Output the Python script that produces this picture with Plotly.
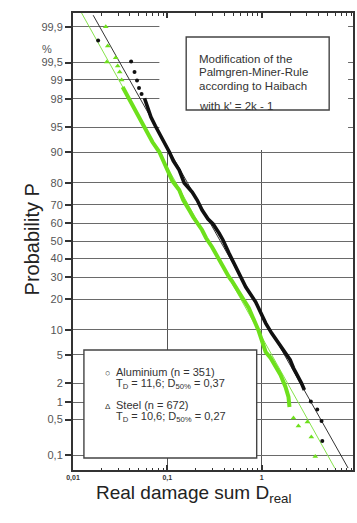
from statistics import NormalDist
import plotly.graph_objects as go

nd = NormalDist()


def zq(p):
    return nd.inv_cdf(p / 100.0)


# ---------------- data ----------------
prob_ticks = [99.9, 99.5, 99, 98, 95, 90, 80, 70, 60, 50, 40, 30, 20, 10, 5, 2, 1, 0.5, 0.1]
prob_labels = ["99,9", "99,5", "99", "98", "95", "90", "80", "70", "60", "50",
               "40", "30", "20", "10", "5", "2", "1", "0,5", "0,1"]
d_ticks = [0.01, 0.1, 1, 10]
d_labels = ["0,01", "0,1", "1", "10"]
d_minor = [0.02, 0.03, 0.04, 0.05, 0.06, 0.07, 0.08, 0.09,
           0.2, 0.3, 0.4, 0.5, 0.6, 0.7, 0.8, 0.9,
           2, 3, 4, 5, 6, 7, 8, 9]

# Aluminium (n = 351) – dense part of the sample
alu_body_D = [0.0573, 0.0616, 0.0670, 0.0747, 0.0823, 0.0930, 0.105, 0.1157, 0.1337,
              0.151, 0.1833, 0.207, 0.2335, 0.270, 0.305, 0.3526, 0.3886, 0.4495,
              0.5324, 0.6783, 0.8647, 0.976, 1.102, 1.274, 1.51, 1.746, 2.005,
              2.172, 2.452, 2.637, 2.836]
alu_body_P = [98.03, 97.25, 96.32, 95.15, 93.99, 92.41, 90.05, 87.58, 84.72,
              79.87, 76.02, 72.29, 67.27, 62.46, 59.69, 54.6, 50.6, 43.1,
              35.4, 25.3, 18.9, 14.9, 11.8, 9.2, 7.05, 5.62, 4.3,
              3.34, 2.49, 2.02, 1.58]
# Aluminium – isolated points at both ends
alu_tail_D = [0.01846, 0.0413, 0.0449, 0.0477, 0.0501, 0.0533, 3.32, 3.88, 4.31, 4.39]
alu_tail_P = [99.81, 99.52, 99.26, 98.97, 98.64, 98.30, 1.03, 0.75, 0.47, 0.195]

# Steel (n = 672) – dense part
steel_body_D = [0.0336, 0.0398, 0.0472, 0.0533, 0.0601, 0.0695, 0.0823, 0.0976,
                0.1129, 0.1337, 0.1474, 0.1704, 0.1878, 0.2335, 0.2573, 0.2977,
                0.3526, 0.3793, 0.4495, 0.4832, 0.5727, 0.6463, 0.7296, 0.8039,
                0.8647, 0.9300, 1.0, 1.102, 1.244, 1.404, 1.585, 1.789, 1.924, 1.971]
steel_body_P = [98.69, 97.91, 96.76, 95.70, 94.38, 92.34, 90.05, 85.72,
                80.67, 76.91, 72.29, 67.27, 63.54, 56.31, 51.73, 46.55,
                39.2, 37.0, 30.17, 28.19, 22.65, 19.73, 16.68, 13.96,
                11.55, 9.70, 7.66, 5.46, 4.57, 3.45, 2.66, 1.76, 1.22, 0.83]
# Steel – isolated points at both ends
steel_tail_D = [0.02225, 0.02335, 0.0228, 0.02835, 0.02977, 0.03125, 0.0328,
                2.172, 2.452, 3.05, 3.36, 3.70]
steel_tail_P = [99.90, 99.755, 99.51, 99.59, 99.42, 99.26, 98.99,
                0.53, 0.38, 0.45, 0.234, 0.094]

# fitted log-normal lines (end points)
alu_fit_D = [0.01636, 8.24]
alu_fit_P = [99.944, 0.0526]
steel_fit_D = [0.01185, 5.97]
steel_fit_P = [99.957, 0.052]

# ---------------- geometry helpers (pixel -> coordinates) ----------------
L, R, T, B = 73, 355, 13, 470
X_LO, X_HI = -2.0, 0.968
Z_TOP = (241 - T) / 69.3
Z_BOT = (241 - B) / 69.3


def px(xp):
    return (xp - L) / (R - L)


def py(yp):
    return (B - yp) / (B - T)


def xd(xp):
    return 10 ** (X_LO + (X_HI - X_LO) * px(xp))


def yz(yp):
    return Z_BOT + (Z_TOP - Z_BOT) * py(yp)


BLACK = "#111111"
GREEN = "#6ee01c"
FONT = "Liberation Sans, Arial, sans-serif"

fig = go.Figure()

fig.add_trace(go.Scatter(x=steel_fit_D, y=[zq(p) for p in steel_fit_P], mode="lines",
                         line=dict(color="#86e34c", width=1), hoverinfo="skip"))
fig.add_trace(go.Scatter(x=alu_fit_D, y=[zq(p) for p in alu_fit_P], mode="lines",
                         line=dict(color="#333333", width=1), hoverinfo="skip"))

fig.add_trace(go.Scatter(x=alu_body_D, y=[zq(p) for p in alu_body_P], mode="lines",
                         line=dict(color=BLACK, width=3.6), name="Aluminium"))
fig.add_trace(go.Scatter(x=alu_tail_D, y=[zq(p) for p in alu_tail_P], mode="markers",
                         marker=dict(color=BLACK, size=4, symbol="circle"), name="Aluminium"))
fig.add_trace(go.Scatter(x=steel_body_D, y=[zq(p) for p in steel_body_P], mode="lines",
                         line=dict(color=GREEN, width=4), name="Steel"))
fig.add_trace(go.Scatter(x=steel_tail_D, y=[zq(p) for p in steel_tail_P], mode="markers",
                         marker=dict(color=GREEN, size=5, symbol="triangle-up"), name="Steel"))

shapes = [
    # blank upper-right region (grid interrupted there)
    dict(type="rect", xref="x", yref="y", x0=xd(160), x1=xd(350), y0=yz(150), y1=yz(10),
         fillcolor="white", line=dict(width=0), layer="between"),
    # annotation box
    dict(type="rect", xref="x", yref="y", x0=xd(187), x1=xd(331), y0=yz(110), y1=yz(37),
         fillcolor="white", line=dict(color="#444444", width=1.4), layer="between"),
    # legend box
    dict(type="rect", xref="x", yref="y", x0=xd(84), x1=xd(258), y0=yz(458), y1=yz(350),
         fillcolor="white", line=dict(color="#444444", width=1.4), layer="between"),
]

TXT = "#333333"
annotations = [
    dict(text="Probability P", x=px(19), y=py(239), textangle=-90,
         font=dict(size=20, color="#222222", family=FONT)),
    dict(text="%", x=px(40), y=py(41), font=dict(size=11, color="#555555", family=FONT)),
    dict(text="Real damage sum D<sub>real</sub>", x=px(194), y=py(508),
         font=dict(size=19, color="#222222", family=FONT)),
    dict(text="Modification of the", x=px(198), y=py(51), xanchor="left",
         font=dict(size=11.5, color=TXT, family=FONT)),
    dict(text="Palmgren-Miner-Rule", x=px(198), y=py(64), xanchor="left",
         font=dict(size=11.5, color=TXT, family=FONT)),
    dict(text="according to Haibach", x=px(198), y=py(78), xanchor="left",
         font=dict(size=11.5, color=TXT, family=FONT)),
    dict(text="with k' = 2k - 1", x=px(198), y=py(98), xanchor="left",
         font=dict(size=11.5, color=TXT, family=FONT)),
    dict(text="○", x=px(103), y=py(380), font=dict(size=9, color=TXT, family=FONT)),
    dict(text="Aluminium (n = 351)", x=px(114), y=py(380), xanchor="left",
         font=dict(size=11, color=TXT, family=FONT)),
    dict(text="T<sub>D</sub> = 11,6; D<sub>50%</sub> = 0,37", x=px(114), y=py(393), xanchor="left",
         font=dict(size=11, color=TXT, family=FONT)),
    dict(text="Δ", x=px(103), y=py(413), font=dict(size=8, color=TXT, family=FONT)),
    dict(text="Steel (n = 672)", x=px(114), y=py(413), xanchor="left",
         font=dict(size=11, color=TXT, family=FONT)),
    dict(text="T<sub>D</sub> = 10,6; D<sub>50%</sub> = 0,27", x=px(114), y=py(426), xanchor="left",
         font=dict(size=11, color=TXT, family=FONT)),
]
for a in annotations:
    a.update(xref="paper", yref="paper", showarrow=False)

fig.update_layout(
    width=357, height=523,
    margin=dict(l=L, r=357 - R, t=T, b=523 - B),
    paper_bgcolor="white", plot_bgcolor="white",
    showlegend=False,
    shapes=shapes,
    annotations=annotations,
    font=dict(family=FONT),
    xaxis=dict(
        type="log", range=[X_LO, X_HI],
        tickmode="array", tickvals=d_ticks, ticktext=["<b>%s</b>" % t for t in d_labels],
        tickfont=dict(size=7, color="#333333", family=FONT),
        ticks="inside", ticklen=5, tickwidth=1.5, tickcolor="#333333",
        showline=True, linecolor="#333333", linewidth=2, mirror="ticks",
        showgrid=True, gridcolor="#555555", gridwidth=1, zeroline=False,
        minor=dict(tickmode="array", tickvals=d_minor, ticks="inside", ticklen=2.5,
                   tickwidth=1.2, tickcolor="#333333", showgrid=False),
    ),
    yaxis=dict(
        range=[Z_BOT, Z_TOP],
        tickmode="array", tickvals=[zq(p) for p in prob_ticks], ticktext=prob_labels,
        tickfont=dict(size=11, color="#555555", family=FONT),
        ticks="outside", ticklen=6, tickwidth=2, tickcolor="#333333",
        showline=True, linecolor="#333333", linewidth=2, mirror=True,
        showgrid=True, gridcolor="#6a6a6a", gridwidth=1, zeroline=False,
    ),
)

fig.write_html("out.html", config={"displayModeBar": False},
               post_script="document.body.style.margin='0px';")
